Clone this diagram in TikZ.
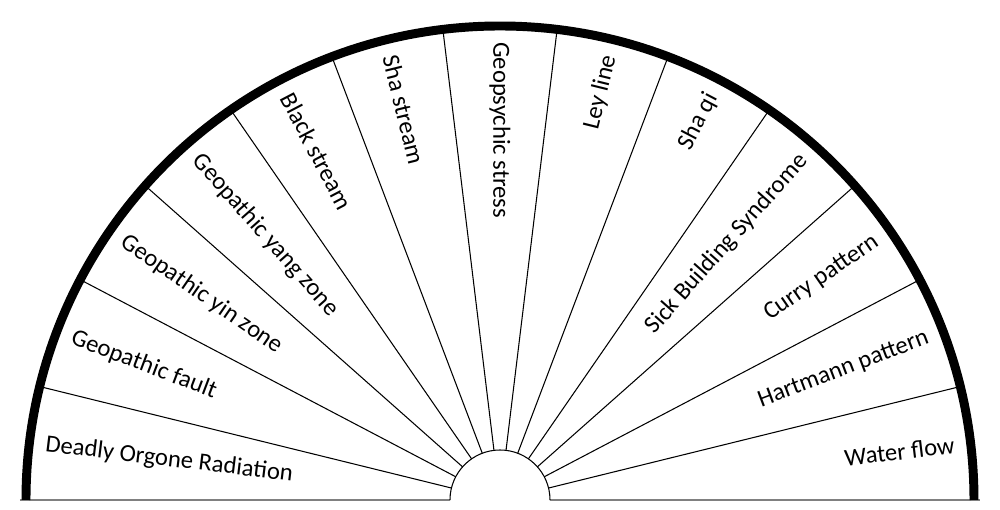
\documentclass[tikz,border=0pt]{standalone}
\usepackage{fontspec}
\setmainfont{Carlito}
\usetikzlibrary{positioning}

\tikzset{
  rim/.style={line width=5.1pt, black},
  spoke/.style={line width=0.6pt, black},
  base/.style={line width=1pt, gray},
  lbl/.style={font=\fontsize{14}{16}\selectfont, inner sep=0pt}
}

\begin{document}
\begin{tikzpicture}
            \useasboundingbox (-10,-0.2) rectangle (10,10);
            % Base line and hub
            \draw[base] (-9.6,0) -- (-1,0);
            \draw[base] (1,0) -- (9.6,0);
            \draw[spoke] (1,0) arc[start angle=0, end angle=180, radius=1];

            % Sector dividers
            \foreach \i in {1,...,12}
                \draw[spoke] (\i*180/13:1) -- (\i*180/13:9.48);

            % Outer rim
            \draw[rim] (9.48,0) arc[start angle=0, end angle=180, radius=9.48];

            % Sector labels
            \foreach \txt [count=\k from 0] in {Deadly Orgone Radiation, Geopathic fault,
                    Geopathic yin zone, Geopathic yang zone, Black stream, Sha stream,
                    Geopsychic stress, Ley line, Sha qi, Sick Building Syndrome,
                    Curry pattern, Hartmann pattern, Water flow} {
                \pgfmathsetmacro\mid{180-(\k+0.5)*180/13}
                \ifnum\k<7
                    \node[lbl, anchor=west, rotate=\mid-180] (sec\k) at (\mid:9.16) {\txt};
                \else
                    \node[lbl, anchor=east, rotate=\mid] (sec\k) at (\mid:9.16) {\txt};
                \fi
            }
        \end{tikzpicture}
\end{document}
